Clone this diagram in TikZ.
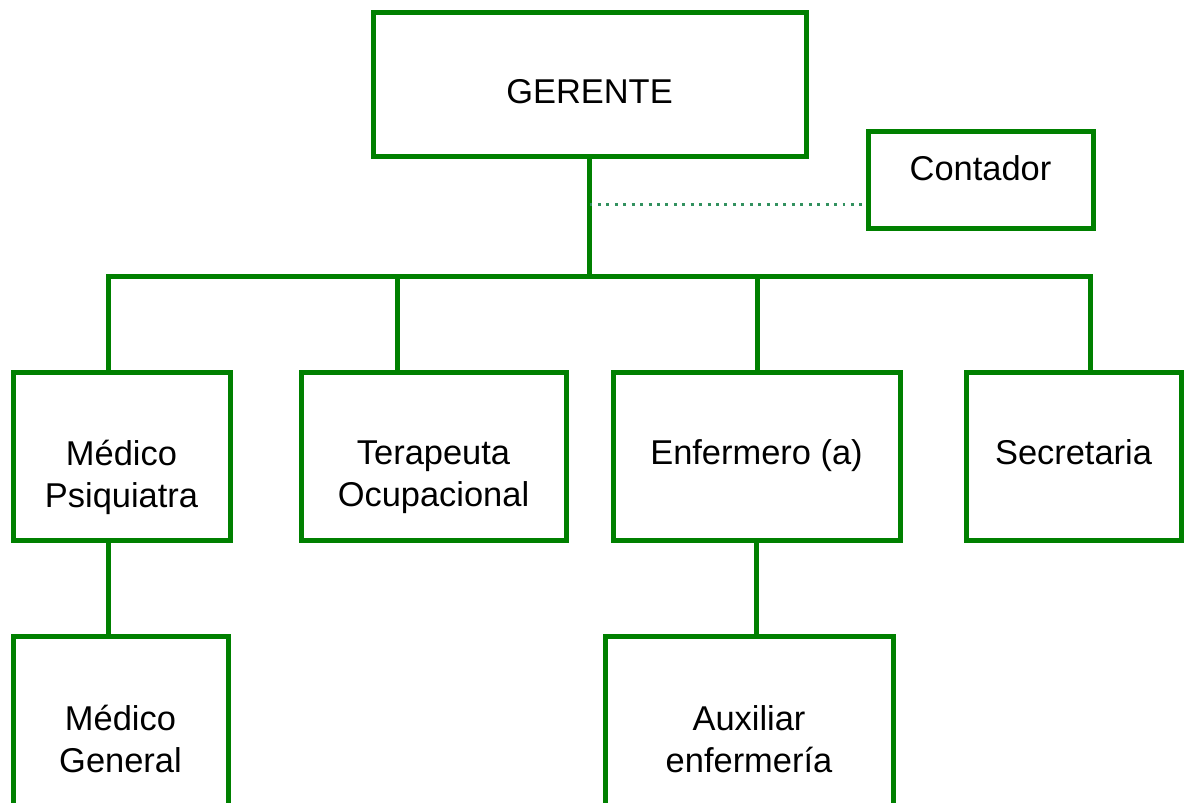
\documentclass[tikz,border=0pt]{standalone}
\usepackage{fontspec}
\setmainfont{Liberation Sans}
\usetikzlibrary{calc}

\begin{document}
\begin{tikzpicture}[x=0.02cm,y=-0.02cm]

\definecolor{orggreen}{RGB}{0,128,0}
\definecolor{dotgreen}{RGB}{50,145,95}
\tikzstyle{cargo}=[draw=orggreen, line width=5*0.02cm, fill=white, inner sep=0pt]
\tikzstyle{texto}=[align=center, inner sep=0pt, font=\fontsize{19.6}{24}\selectfont]
\tikzstyle{linea}=[draw=orggreen, line width=5*0.02cm]
\tikzstyle{asesor}=[draw=dotgreen, line width=1.7pt, dash pattern=on 1.7pt off 3.1pt]

\useasboundingbox (0,0) rectangle (1184,802);
\clip (0,0) rectangle (1184,802);

% cargos (caja y texto)
\node[cargo, minimum width=433*0.02cm, minimum height=144*0.02cm] (gerente) at (589.5,84) {};
\node[cargo, minimum width=225*0.02cm, minimum height=97*0.02cm] (contador) at (980.5,179.5) {};
\node[cargo, minimum width=217*0.02cm, minimum height=168*0.02cm] (psiquiatra) at (121.5,456) {};
\node[cargo, minimum width=265*0.02cm, minimum height=168*0.02cm] (terapeuta) at (433.5,456) {};
\node[cargo, minimum width=287*0.02cm, minimum height=168*0.02cm] (enfermero) at (756.5,456) {};
\node[cargo, minimum width=215*0.02cm, minimum height=168*0.02cm] (secretaria) at (1073.5,456) {};
\node[cargo, minimum width=215*0.02cm, minimum height=200*0.02cm] (general) at (120.5,736) {};
\node[cargo, minimum width=288*0.02cm, minimum height=200*0.02cm] (auxiliar) at (749,736) {};

\node[texto, yshift=-8*0.02cm] (t-gerente) at (gerente) {GERENTE};
\node[texto, yshift=11*0.02cm] (t-contador) at (contador) {Contador};
\node[texto, yshift=-21*0.02cm] (t-psiquiatra) at (psiquiatra) {Médico\\Psiquiatra};
\node[texto, yshift=-21*0.02cm] (t-terapeuta) at (terapeuta) {Terapeuta\\Ocupacional};
\node[texto] (t-enfermero) at (enfermero) {Enfermero (a)};
\node[texto, yshift=4*0.02cm] (t-secretaria) at (secretaria) {Secretaria};
\node[texto, yshift=-3*0.02cm] (t-general) at (general) {Médico\\General};
\node[texto, yshift=-3*0.02cm] (t-auxiliar) at (auxiliar) {Auxiliar\\enfermería};

% lineas de mando
\coordinate (bus) at (589.5,276);
\coordinate (asesoria) at (589.5,204);
\foreach \x/\n in {108/psiquiatra, 397/terapeuta, 757/enfermero, 1090/secretaria} {
    \coordinate (b-\n) at (\x,276);
    \draw[linea] (b-\n) -- (b-\n |- \n.north);
}
\draw[linea] (gerente.south) -- (bus);
\draw[linea, line cap=rect] (b-psiquiatra) -- (b-secretaria);
\draw[linea] (psiquiatra.south -| b-psiquiatra) -- (b-psiquiatra |- general.north);
\draw[linea] (enfermero.south) -- (enfermero.south |- auxiliar.north);
\draw[asesor] (asesoria) -- (asesoria -| contador.west);

\end{tikzpicture}
\end{document}
